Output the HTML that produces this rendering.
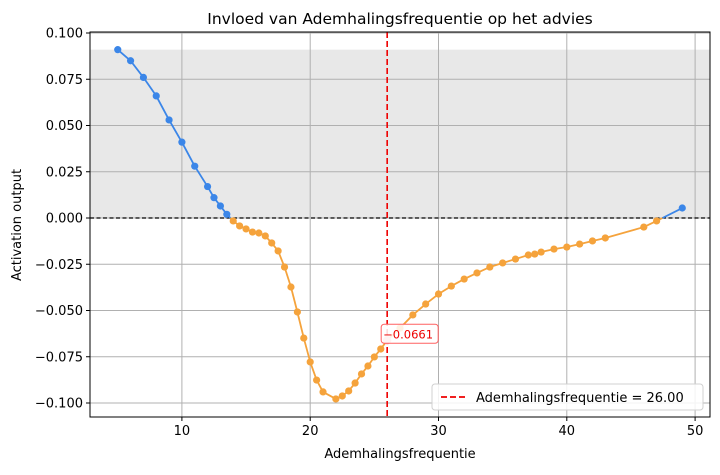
<!DOCTYPE html>
<html><head><meta charset="utf-8"><style>
body{margin:0;background:#fff;font-family:"Liberation Sans","DejaVu Sans",sans-serif}
svg text{font-family:"DejaVu Sans","Liberation Sans",sans-serif}
</style></head><body>
<svg id="c" width="720" height="470" xmlns="http://www.w3.org/2000/svg"></svg>
<script>
const xs=[5,6,7,8,9,10,11,12,12.5,13,13.5,14,14.5,15,15.5,16,16.5,17,17.5,18,18.5,19,19.5,20,20.5,21,22,22.5,23,23.5,24,24.5,25,25.5,26,27,28,29,30,31,32,33,34,35,36,37,37.5,38,39,40,41,42,43,46,47,49];
const ys=[0.091,0.085,0.076,0.066,0.053,0.041,0.028,0.017,0.011,0.0065,0.002,-0.0016,-0.0043,-0.0059,-0.0076,-0.0081,-0.0097,-0.0135,-0.0178,-0.0265,-0.0373,-0.0508,-0.0649,-0.0778,-0.0876,-0.094,-0.0978,-0.0962,-0.0935,-0.0892,-0.0843,-0.08,-0.0751,-0.0708,-0.0661,-0.0595,-0.0524,-0.0465,-0.0411,-0.0368,-0.033,-0.0297,-0.0265,-0.0243,-0.0222,-0.02,-0.0195,-0.0184,-0.0168,-0.0157,-0.0141,-0.0124,-0.0108,-0.0049,-0.0016,0.0054];
const xTicks=[10,20,30,40,50];
const yTicks=[0.1,0.075,0.05,0.025,0,-0.025,-0.05,-0.075,-0.1];
const markerX=26, markerY=-0.0661;
const L=90,R=710,T=32,B=417;
const X=v=>53.6+v*12.83;
const Y=v=>218-v*1850;
const svg=document.getElementById('c');
const NS='http://www.w3.org/2000/svg';
function mk(tag,attrs,parent){const e=document.createElementNS(NS,tag);for(const k in attrs)e.setAttribute(k,attrs[k]);(parent||svg).appendChild(e);return e;}
const fmt=v=>(v<0?'\u2212':'')+Math.abs(v).toFixed(3);
const maxY=Math.max(...ys);
let e=mk('rect',{x:L,y:Y(maxY),width:R-L,height:Y(0)-Y(maxY),fill:'#e8e8e8'});


xTicks.forEach(t=>{let g=mk('line',{x1:X(t),x2:X(t),y1:T,y2:B,stroke:'#b0b0b0','stroke-width':1});


let l=mk('line',{x1:X(t),x2:X(t),y1:B,y2:B+4,stroke:'#000'});


let tx=mk('text',{x:X(t),y:B+18,'text-anchor':'middle','font-size':13});tx.textContent=t;

});
yTicks.forEach(t=>{let g=mk('line',{x1:L,x2:R,y1:Y(t),y2:Y(t),stroke:'#b0b0b0','stroke-width':1});


let l=mk('line',{x1:L-4,x2:L,y1:Y(t),y2:Y(t),stroke:'#000'});


let tx=mk('text',{x:L-7,y:Y(t)+4.5,'text-anchor':'end','font-size':13});tx.textContent=fmt(t);

});
e=mk('line',{x1:L,x2:R,y1:Y(0),y2:Y(0),stroke:'#000','stroke-width':1.2,'stroke-dasharray':'4,2.5'});


const blue='#3b86e8',orange='#f5a33c';
for(let i=0;i<xs.length-1;i++){
 const x0=xs[i],y0=ys[i],x1=xs[i+1],y1=ys[i+1];
 if((y0>=0)===(y1>=0)){let s=mk('line',{x1:X(x0),y1:Y(y0),x2:X(x1),y2:Y(y1),stroke:y0>=0?blue:orange,'stroke-width':1.8});
 
 }
 else{const xz=x0+(x1-x0)*(0-y0)/(y1-y0);
 let s=mk('line',{x1:X(x0),y1:Y(y0),x2:X(xz),y2:Y(0),stroke:y0>=0?blue:orange,'stroke-width':1.8});
 
 
 s=mk('line',{x1:X(xz),y1:Y(0),x2:X(x1),y2:Y(y1),stroke:y1>=0?blue:orange,'stroke-width':1.8});
 
 }
}
xs.forEach((x,i)=>{let c=mk('circle',{cx:X(x),cy:Y(ys[i]),r:3.6,fill:ys[i]>=0?blue:orange});

});
e=mk('line',{x1:X(markerX),x2:X(markerX),y1:T,y2:B,stroke:'#ee0000','stroke-width':1.6,'stroke-dasharray':'6,3'});


e=mk('circle',{cx:X(markerX),cy:Y(markerY),r:4.2,fill:'#ffb0b0'});


const g=mk('g',{});


mk('rect',{x:X(markerX)-6,y:Y(markerY)-16,width:57,height:19,rx:3,fill:'rgba(255,255,255,0.85)',stroke:'#ff6060','stroke-width':1},g);
let at=mk('text',{x:X(markerX)-4,y:Y(markerY)-2,'font-size':11.5,fill:'#ee0000'},g);at.textContent='\u2212'+Math.abs(markerY).toFixed(4);
e=mk('rect',{x:L,y:T,width:R-L,height:B-T,fill:'none',stroke:'#000','stroke-width':1});


const lg=mk('g',{});


mk('rect',{x:432,y:384,width:271,height:26,rx:3,fill:'rgba(255,255,255,0.85)',stroke:'#d0d0d0'},lg);
mk('line',{x1:441,x2:468,y1:397,y2:397,stroke:'#ee0000','stroke-width':1.8,'stroke-dasharray':'6,3'},lg);
let lt=mk('text',{x:476,y:402,'font-size':13},lg);lt.textContent='Ademhalingsfrequentie = '+markerX.toFixed(2);
let tt=mk('text',{x:400,y:24,'text-anchor':'middle','font-size':15.5});tt.textContent='Invloed van Ademhalingsfrequentie op het advies';


tt=mk('text',{x:400,y:458,'text-anchor':'middle','font-size':13});tt.textContent='Ademhalingsfrequentie';


tt=mk('text',{x:21,y:225,'text-anchor':'middle','font-size':13,transform:'rotate(-90 21 225)'});tt.textContent='Activation output';


</script>
</body></html>
